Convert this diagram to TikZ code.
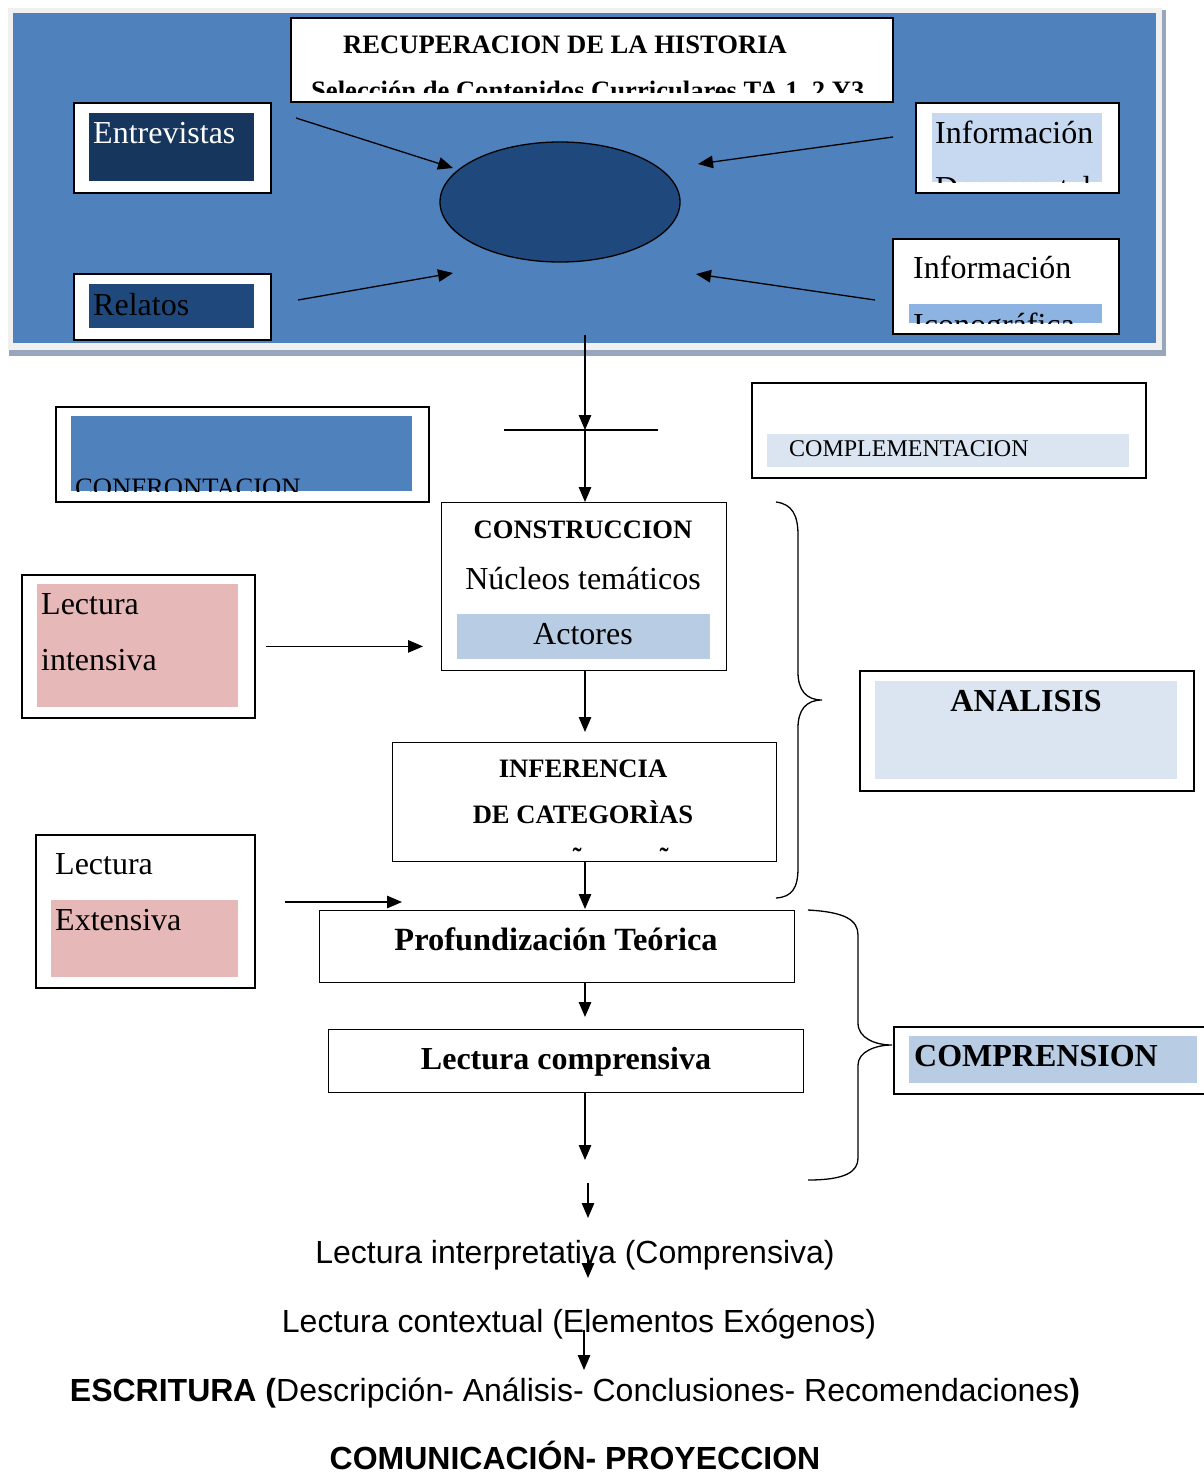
\documentclass[tikz,border=0pt]{standalone}
\usepackage{fontspec}
\setmainfont{Liberation Serif}
\newfontfamily\arialfam{Liberation Sans}
\usepackage{tikz}
\usetikzlibrary{arrows,arrows.meta,shapes,positioning}
\definecolor{panelblue}{HTML}{4F81BD}
\definecolor{panelrim}{HTML}{F0F0F0}
\definecolor{panelshade}{HTML}{97A6BB}
\definecolor{navydark}{HTML}{17365D}
\definecolor{navymid}{HTML}{1F497D}
\definecolor{skyfill}{HTML}{C6D9F1}
\definecolor{iconfill}{HTML}{8DB3E2}
\definecolor{palefill}{HTML}{DBE5F1}
\definecolor{actfill}{HTML}{B8CCE4}
\definecolor{rosefill}{HTML}{E6B8B7}
\newcommand{\fsz}[1]{\fontsize{#1}{#1}\selectfont}

\begin{document}
\begin{tikzpicture}[x=1pt,y=-1pt]
    \tikzstyle{every node}+=[inner sep=0pt]
    \tikzstyle{frame}=[draw=black, line width=1.8pt, fill=white, anchor=north west]
    \tikzstyle{plain}=[draw=black, line width=1.3pt, fill=white, anchor=north west]
    \tikzstyle{link}=[draw=black, line width=1.3pt, -{Triangle[length=15pt,width=12.5pt]}]
    \tikzstyle{txt}=[anchor=base west, font=\fsz{32}]
    \tikzstyle{head}=[anchor=base, font=\bfseries\fsz{26.6}]
    \tikzstyle{sans}=[anchor=base, font=\arialfam\fsz{32}]
    \useasboundingbox (0,0) rectangle (1204,1475);

    % panel de recuperacion
    \fill [panelshade] (9,10) rectangle (1166,356);
    \fill [panelrim] (8,8) rectangle (1162,350);
    \fill [panelblue] (13,13) rectangle (1156,343);

    \node [frame, minimum width=602, minimum height=84] (titulo) at (290,17) {};
    \node [anchor=base west, font=\bfseries\fsz{26.6}] (tit1) at (343,53) {RECUPERACION DE LA HISTORIA};
    \begin{scope}
        \clip (292,19) rectangle (890,92);
        \node [anchor=base west, font=\bfseries\fsz{26.6}] (tit2) at (311,99) {Selección de Contenidos Curriculares TA 1, 2 Y3};
    \end{scope}

    \node [frame, minimum width=197, minimum height=90] (entrevistas) at (73,102) {};
    \fill [navydark] (89,113) rectangle (254,181);
    \node [txt, text=white] (entrevistasT) at (93,143) {Entrevistas};

    \node [frame, minimum width=197, minimum height=66] (relatos) at (73,273) {};
    \fill [navymid] (89,284) rectangle (254,328);
    \node [txt] (relatosT) at (93,315) {Relatos};

    \node [frame, minimum width=203, minimum height=90] (documental) at (915,102) {};
    \fill [skyfill] (932,113) rectangle (1102,182);
    \begin{scope}
        \clip (932,113) rectangle (1102,182);
        \node [txt] (docT1) at (935,143) {Información};
        \node [txt] (docT2) at (935,198) {Documental};
    \end{scope}

    \node [frame, minimum width=226, minimum height=95] (iconografica) at (892,238) {};
    \node [txt] (icoT1) at (913,278) {Información};
    \fill [iconfill] (909,304) rectangle (1102,323);
    \begin{scope}
        \clip (909,300) rectangle (1102,323);
        \node [txt] (icoT2) at (913,335) {Iconográfica};
    \end{scope}

    \node [draw=black, line width=1.3pt, fill=navymid, ellipse, minimum width=240, minimum height=120] (centro) at (560,202) {};

    \coordinate (entA) at (296,118);
    \coordinate (entB) at (453,168);
    \coordinate (relA) at (298,300);
    \coordinate (relB) at (453,273);
    \coordinate (docA) at (893,137);
    \coordinate (docB) at (698,164);
    \coordinate (icoA) at (875,300);
    \coordinate (icoB) at (696,274);
    \draw [link] (entA) -- (entB);
    \draw [link] (relA) -- (relB);
    \draw [link] (docA) -- (docB);
    \draw [link] (icoA) -- (icoB);

    % cajas laterales
    \node [frame, minimum width=373, minimum height=95] (confrontacion) at (55,406) {};
    \fill [panelblue] (71,416) rectangle (412,491);
    \begin{scope}
        \clip (71,416) rectangle (412,491);
        \node [anchor=base west, font=\fsz{26.6}] (confT) at (75,496) {CONFRONTACION};
    \end{scope}

    \node [frame, minimum width=394, minimum height=95] (complementacion) at (751,382) {};
    \fill [palefill] (767,434) rectangle (1129,467);
    \node [anchor=base west, font=\fsz{24}] (complT) at (789,456) {COMPLEMENTACION};

    % construccion
    \node [plain, minimum width=285, minimum height=168] (construccion) at (441,502) {};
    \node [head] (consT) at (583,538) {CONSTRUCCION};
    \node [anchor=base, font=\fsz{32}] (nucleos) at (583,589) {Núcleos temáticos};
    \fill [actfill] (457,614) rectangle (710,659);
    \node [anchor=base, font=\fsz{32}] (actores) at (583,644) {Actores};

    \coordinate (salida) at (585,335);
    \coordinate (cruce) at (585,430);
    \coordinate (barraI) at (504,430);
    \coordinate (barraD) at (658,430);
    \draw [link] (salida) -- (cruce);
    \draw [black, line width=1.3pt] (barraI) -- (barraD);
    \draw [link] (cruce) -- (cruce |- construccion.north);

    \node [frame, minimum width=233, minimum height=143] (intensiva) at (21,574) {};
    \fill [rosefill] (37,584) rectangle (238,707);
    \node [txt] (intT1) at (41,614) {Lectura};
    \node [txt] (intT2) at (41,670) {intensiva};
    \draw [link, shorten <=10pt, shorten >=18pt] (intensiva.east) -- (intensiva.east -| construccion.west);

    % inferencia
    \node [plain, minimum width=384, minimum height=119] (inferencia) at (392,742) {};
    \node [head] (infT1) at (583,777) {INFERENCIA};
    \node [head] (infT2) at (583,823) {DE CATEGORÌAS};
    \begin{scope}
        \clip (394,835) rectangle (774,852);
        \node [anchor=base, font=\bfseries\fsz{26.6}] (tilde1) at (577,866) {ñ};
        \node [anchor=base, font=\bfseries\fsz{26.6}] (tilde2) at (664,866) {ñ};
    \end{scope}
    \draw [link, shorten >=10pt] (construccion.south -| cruce) -- (inferencia.north -| cruce);

    \draw [black, line width=1.3pt] (776,502) .. controls (792,504) and (798,515) .. (798,535)
        -- (798,672) .. controls (798,690) and (806,700) .. (822,700)
        .. controls (806,700) and (798,710) .. (798,728)
        -- (798,868) .. controls (798,888) and (792,897) .. (776,898);

    \node [frame, minimum width=334, minimum height=120] (analisis) at (859,670) {};
    \fill [palefill] (875,681) rectangle (1177,779);
    \node [anchor=base, font=\bfseries\fsz{32}] (analT) at (1026,711) {ANALISIS};

    \node [frame, minimum width=219, minimum height=153] (extensiva) at (35,834) {};
    \node [txt] (extT1) at (55,874) {Lectura};
    \fill [rosefill] (51,900) rectangle (238,977);
    \node [txt] (extT2) at (55,930) {Extensiva};
    \coordinate (extA) at (285,902);
    \coordinate (extB) at (402,902);
    \draw [link] (extA) -- (extB);

    % profundizacion y comprension
    \node [plain, minimum width=475, minimum height=72] (profundizacion) at (319,910) {};
    \node [anchor=base, font=\bfseries\fsz{32.4}] (profT) at (556,950) {Profundización Teórica};
    \draw [link, shorten >=1pt] (inferencia.south -| cruce) -- (profundizacion.north -| cruce);

    \node [plain, minimum width=475, minimum height=63] (comprensiva) at (328,1029) {};
    \node [anchor=base, font=\bfseries\fsz{32}] (comprT) at (566,1069) {Lectura comprensiva};
    \draw [link, shorten >=12pt] (profundizacion.south -| cruce) -- (comprensiva.north -| cruce);
    \coordinate (finA) at (585,1160);
    \draw [link] (comprensiva.south -| cruce) -- (finA);

    \draw [black, line width=1.3pt] (808,910) .. controls (845,912) and (858,920) .. (858,935)
        -- (858,1023) .. controls (858,1038) and (875,1045) .. (892,1045)
        .. controls (875,1045) and (858,1052) .. (858,1065)
        -- (858,1158) .. controls (858,1172) and (845,1180) .. (808,1180);

    \node [frame, minimum width=330, minimum height=67] (comprension) at (893,1026) {};
    \fill [actfill] (909,1036) rectangle (1197,1083);
    \node [anchor=base west, font=\bfseries\fsz{32}] (comprensionT) at (914,1066) {COMPRENSION};

    % lecturas finales
    \coordinate (b1) at (588,1183);
    \coordinate (b2) at (588,1218);
    \draw [link] (b1) -- (b2);
    \node [sans] (interpretativa) at (575,1263) {Lectura interpretativa (Comprensiva)};
    \coordinate (b3) at (588,1255);
    \coordinate (b4) at (588,1278);
    \draw [link] (b3) -- (b4);
    \node [sans] (contextual) at (579,1332) {Lectura contextual (Elementos Exógenos)};
    \coordinate (b5) at (584,1330);
    \coordinate (b6) at (584,1370);
    \draw [link] (b5) -- (b6);
    \node [sans] (escritura) at (575,1401) {\textbf{ESCRITURA (}Descripción- Análisis- Conclusiones- Recomendaciones\textbf{)}};
    \node [sans, font=\arialfam\bfseries\fsz{32}] (comunicacion) at (575,1469) {COMUNICACIÓN- PROYECCION};
\end{tikzpicture}
\end{document}
